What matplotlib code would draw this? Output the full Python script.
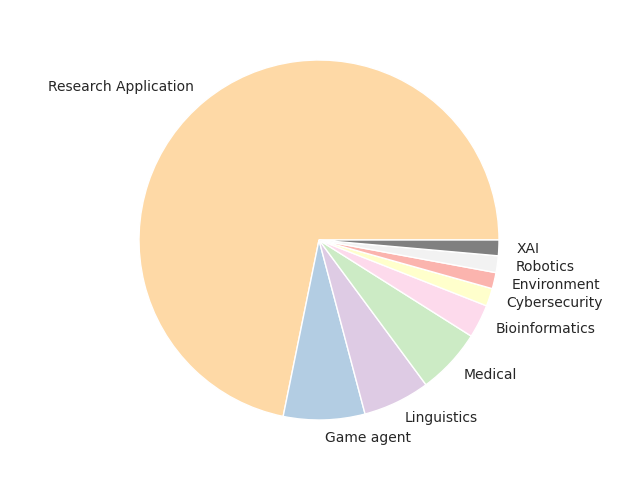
import matplotlib.pyplot as plt

# Share of papers by application area (%)
labels = ['Research Application', 'Game agent', 'Linguistics', 'Medical',
          'Bioinformatics', 'Cybersecurity', 'Environment', 'Robotics', 'XAI']
shares = [71.7, 7.3, 6.0, 5.9, 3.0, 1.6, 1.45, 1.5, 1.4]
colors = ['#fed9a6', '#b3cde3', '#decbe4', '#ccebc5', '#fddaec',
          '#ffffcc', '#fbb4ae', '#f2f2f2', '#808080']

fig = plt.figure(figsize=(6.4, 4.8), dpi=100)
ax = fig.add_axes([0.2172, 0.125, 0.5625, 0.75])
ax.pie(shares, labels=labels, colors=colors,
       wedgeprops={'edgecolor': 'white', 'linewidth': 1},
       textprops={'color': '#262626', 'fontsize': 10})
ax.set_xlim(-1, 1)
ax.set_ylim(-1, 1)

fig.savefig('out.png', dpi=100)
